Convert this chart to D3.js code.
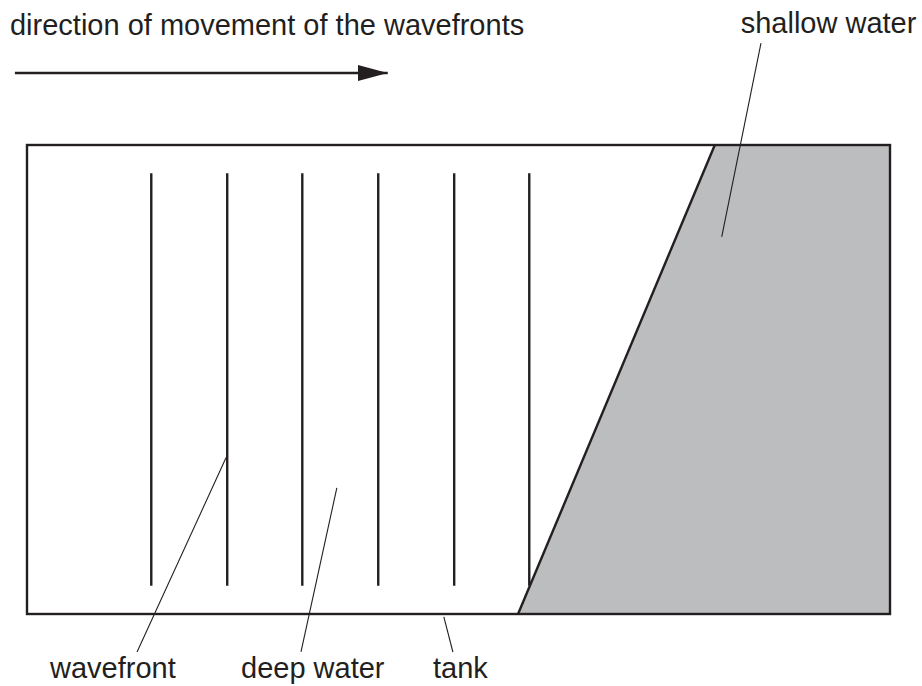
<!DOCTYPE html>
<html>
<head>
<meta charset="utf-8">
<script src="https://cdn.jsdelivr.net/npm/d3@7"></script>
<style>
  html, body { margin: 0; padding: 0; background: #fff; }
</style>
</head>
<body>
<div id="diagram"></div>
<script>
// Diagram units: tank spans x 0..100 and y 0..100
const wavefrontX = [14.4, 23.2, 31.9, 40.7, 49.5, 58.2];
const wavefrontY = [6, 94];
const shallowEdge = [[79.7, 0], [56.9, 100]]; // top, bottom of the sloping edge

const titleText = "direction of movement of the wavefronts";
const titleAt = [-1.97, -23.45];
const arrowFrom = [-1.4, -15.35];
const arrowTo = [41.8, -15.35];

const labels = [
  { text: "shallow water", at: [82.7, -23.9], line: [[85.05, -21.7], [80.5, 19.6]] },
  { text: "wavefront", at: [2.67, 113.65], line: [[23.06, 66.7], [12.75, 108.1]] },
  { text: "deep water", at: [24.8, 113.65], line: [[35.9, 73.1], [31.75, 108.1]] },
  { text: "tank", at: [47.05, 113.65], line: [[48.3, 100.6], [49.35, 108.1]] }
];

function drawWaveTank() {
  const width = 922;
  const height = 686;
  const ink = "#231f20";
  const shallowFill = "#bcbdbf";
  const fontSize = 29;
  const fontFamily = "'Liberation Sans', Arial, Helvetica, sans-serif";

  const x = d3.scaleLinear().domain([0, 100]).range([27, 890]);
  const y = d3.scaleLinear().domain([0, 100]).range([145, 614]);

  const svg = d3.select("#diagram")
    .append("svg")
    .attr("width", width)
    .attr("height", height);

  svg.append("defs").append("marker")
    .attr("id", "arrowhead")
    .attr("viewBox", "0 0 30 16")
    .attr("refX", 30)
    .attr("refY", 8)
    .attr("markerWidth", 30)
    .attr("markerHeight", 16)
    .attr("markerUnits", "userSpaceOnUse")
    .attr("orient", "auto")
    .append("path")
    .attr("d", "M0,0 L30,8 L0,16 Z")
    .attr("fill", ink);

  // Shallow water region
  svg.append("path")
    .attr("d", d3.line()([
      [x(shallowEdge[0][0]), y(0)],
      [x(100), y(0)],
      [x(100), y(100)],
      [x(shallowEdge[1][0]), y(100)]
    ]) + "Z")
    .attr("fill", shallowFill);

  // Sloping edge
  svg.append("line")
    .attr("x1", x(shallowEdge[0][0]))
    .attr("y1", y(shallowEdge[0][1]))
    .attr("x2", x(shallowEdge[1][0]))
    .attr("y2", y(shallowEdge[1][1]))
    .attr("stroke", ink)
    .attr("stroke-width", 2.4);

  // Wavefronts
  svg.append("g")
    .selectAll("line")
    .data(wavefrontX)
    .join("line")
    .attr("x1", d => x(d))
    .attr("x2", d => x(d))
    .attr("y1", y(wavefrontY[0]))
    .attr("y2", y(wavefrontY[1]))
    .attr("stroke", ink)
    .attr("stroke-width", 2.4);

  // Tank outline
  svg.append("rect")
    .attr("x", x(0))
    .attr("y", y(0))
    .attr("width", x(100) - x(0))
    .attr("height", y(100) - y(0))
    .attr("fill", "none")
    .attr("stroke", ink)
    .attr("stroke-width", 2.4);

  // Direction arrow
  svg.append("line")
    .attr("x1", x(arrowFrom[0]))
    .attr("y1", y(arrowFrom[1]))
    .attr("x2", x(arrowTo[0]))
    .attr("y2", y(arrowTo[1]))
    .attr("stroke", ink)
    .attr("stroke-width", 2.4)
    .attr("marker-end", "url(#arrowhead)");

  svg.append("text")
    .attr("x", x(titleAt[0]))
    .attr("y", y(titleAt[1]))
    .attr("font-family", fontFamily)
    .attr("font-size", fontSize)
    .attr("fill", ink)
    .text(titleText);

  // Leader lines
  svg.append("g")
    .selectAll("line")
    .data(labels)
    .join("line")
    .attr("x1", d => x(d.line[0][0]))
    .attr("y1", d => y(d.line[0][1]))
    .attr("x2", d => x(d.line[1][0]))
    .attr("y2", d => y(d.line[1][1]))
    .attr("stroke", ink)
    .attr("stroke-width", 1.1);

  // Labels
  svg.append("g")
    .selectAll("text")
    .data(labels)
    .join("text")
    .attr("x", d => x(d.at[0]))
    .attr("y", d => y(d.at[1]))
    .attr("font-family", fontFamily)
    .attr("font-size", fontSize)
    .attr("fill", ink)
    .text(d => d.text);
}

drawWaveTank();
</script>
</body>
</html>
